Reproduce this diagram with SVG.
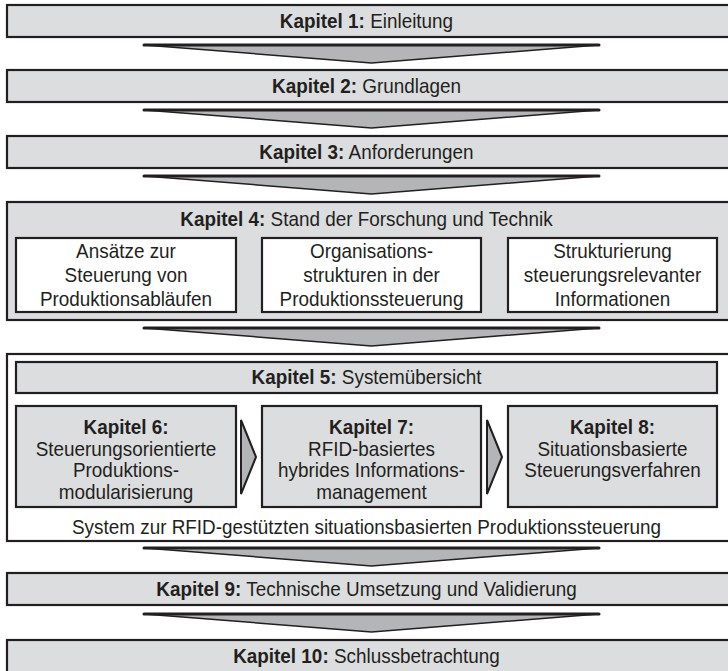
<svg xmlns="http://www.w3.org/2000/svg" width="728" height="671" viewBox="0 0 728 671">
<style>
  text { font-family: "Liberation Sans", Arial, sans-serif; font-size: 21px; fill: #231f20; text-anchor: middle; }
  .b { font-weight: bold; }
  .box { fill: #dcddde; stroke: #231f20; stroke-width: 2.2; }
  .wbox { fill: #ffffff; stroke: #231f20; stroke-width: 2.2; }
  .arr { fill: #b4b5b7; stroke: #231f20; stroke-width: 1.5; stroke-linejoin: bevel; }
  .bar { stroke: #231f20; stroke-width: 3; stroke-linecap: round; }
</style>
<rect width="728" height="671" fill="#ffffff"/>

<g id="kap1">
  <rect class="box" x="7" y="5" width="724" height="32"/>
  <text transform="translate(366.5 28) scale(0.9 1)"><tspan class="b">Kapitel 1:</tspan> Einleitung</text>
</g>
<g id="kap2">
  <rect class="box" x="7" y="70" width="724" height="32"/>
  <text transform="translate(366.5 93) scale(0.9 1)"><tspan class="b">Kapitel 2:</tspan> Grundlagen</text>
</g>
<g id="kap3">
  <rect class="box" x="7" y="136" width="724" height="32"/>
  <text transform="translate(366.5 159) scale(0.9 1)"><tspan class="b">Kapitel 3:</tspan> Anforderungen</text>
</g>

<g id="kap4">
  <rect class="box" x="7" y="202" width="724" height="118"/>
  <text transform="translate(366.5 226) scale(0.9 1)"><tspan class="b">Kapitel 4:</tspan> Stand der Forschung und Technik</text>
</g>
<g id="kap4a">
  <rect class="wbox" x="16" y="238" width="220" height="74"/>
  <text transform="translate(126 258) scale(0.9 1)">Ansätze zur</text>
  <text transform="translate(126 282) scale(0.9 1)">Steuerung von</text>
  <text transform="translate(126 306) scale(0.9 1)">Produktionsabläufen</text>
</g>
<g id="kap4b">
  <rect class="wbox" x="262" y="238" width="219" height="74"/>
  <text transform="translate(371.5 258) scale(0.9 1)">Organisations-</text>
  <text transform="translate(371.5 282) scale(0.9 1)">strukturen in der</text>
  <text transform="translate(371.5 306) scale(0.9 1)">Produktionssteuerung</text>
</g>
<g id="kap4c">
  <rect class="wbox" x="508" y="238" width="209" height="74"/>
  <text transform="translate(612.5 258) scale(0.9 1)">Strukturierung</text>
  <text transform="translate(612.5 282) scale(0.9 1)">steuerungsrelevanter</text>
  <text transform="translate(612.5 306) scale(0.9 1)">Informationen</text>
</g>

<g id="system">
  <rect class="wbox" x="7" y="354" width="724" height="187"/>
  <text transform="translate(366.5 534) scale(0.9 1)">System zur RFID-gestützten situationsbasierten Produktionssteuerung</text>
</g>
<g id="kap5">
  <rect class="box" x="16" y="362" width="701" height="31"/>
  <text transform="translate(366.5 384) scale(0.9 1)"><tspan class="b">Kapitel 5:</tspan> Systemübersicht</text>
</g>
<g id="kap6">
  <rect class="box" x="16" y="406" width="220" height="101"/>
  <text class="b" transform="translate(126 434) scale(0.9 1)">Kapitel 6:</text>
  <text transform="translate(126 455.5) scale(0.9 1)">Steuerungsorientierte</text>
  <text transform="translate(126 477) scale(0.9 1)">Produktions-</text>
  <text transform="translate(126 498.5) scale(0.9 1)">modularisierung</text>
</g>
<g id="kap7">
  <rect class="box" x="262" y="406" width="219" height="101"/>
  <text class="b" transform="translate(371.5 434) scale(0.9 1)">Kapitel 7:</text>
  <text transform="translate(371.5 455.5) scale(0.9 1)">RFID-basiertes</text>
  <text transform="translate(371.5 477) scale(0.9 1)">hybrides Informations-</text>
  <text transform="translate(371.5 498.5) scale(0.9 1)">management</text>
</g>
<g id="kap8">
  <rect class="box" x="508" y="406" width="209" height="101"/>
  <text class="b" transform="translate(612.5 434) scale(0.9 1)">Kapitel 8:</text>
  <text transform="translate(612.5 455.5) scale(0.9 1)">Situationsbasierte</text>
  <text transform="translate(612.5 477) scale(0.9 1)">Steuerungsverfahren</text>
</g>

<g id="kap9">
  <rect class="box" x="7" y="573" width="724" height="32"/>
  <text transform="translate(366.5 596) scale(0.9 1)"><tspan class="b">Kapitel 9:</tspan> Technische Umsetzung und Validierung</text>
</g>
<g id="kap10">
  <rect class="box" x="7" y="640" width="724" height="34"/>
  <text transform="translate(366.5 663) scale(0.9 1)"><tspan class="b">Kapitel 10:</tspan> Schlussbetrachtung</text>
</g>

<g id="connectors">
  <polygon class="arr" points="144,45 599,45 371.5,63"/><line class="bar" x1="144" y1="45" x2="599" y2="45"/>
  <polygon class="arr" points="144,110 599,110 371.5,128"/><line class="bar" x1="144" y1="110" x2="599" y2="110"/>
  <polygon class="arr" points="144,176 599,176 371.5,194"/><line class="bar" x1="144" y1="176" x2="599" y2="176"/>
  <polygon class="arr" points="144,328 599,328 371.5,346"/><line class="bar" x1="144" y1="328" x2="599" y2="328"/>
  <polygon class="arr" points="144,548 599,548 371.5,566"/><line class="bar" x1="144" y1="548" x2="599" y2="548"/>
  <polygon class="arr" points="144,614 599,614 371.5,632"/><line class="bar" x1="144" y1="614" x2="599" y2="614"/>
  <polygon class="arr" points="241,420 256,457 241,494" style="stroke-width:2"/>
  <polygon class="arr" points="487,420 502,457 487,494" style="stroke-width:2"/>
</g>
</svg>
